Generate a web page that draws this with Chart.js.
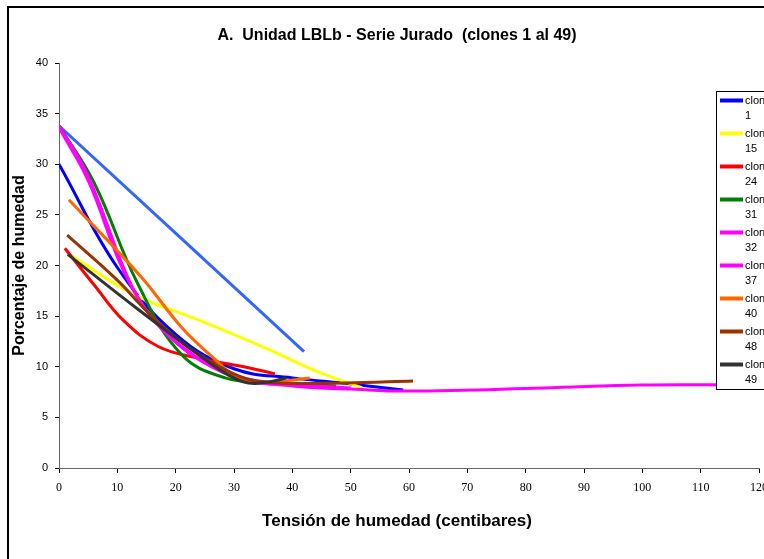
<!DOCTYPE html>
<html>
<head>
<meta charset="utf-8">
<script src="https://cdn.jsdelivr.net/npm/chart.js@4"></script>
<style>
  html, body { margin: 0; padding: 0; overflow: hidden; background: #fff; }
  #wrap { width: 790px; height: 600px; }
</style>
</head>
<body>
<div id="wrap"><canvas id="chart1" width="790" height="600"></canvas></div>
<script>
const TITLE = 'A.  Unidad LBLb - Serie Jurado  (clones 1 al 49)';
const X_TITLE = 'Tensión de humedad (centibares)';
const Y_TITLE = 'Porcentaje de humedad';

// each series: tension (x) and humidity (y)
const extraX = [0, 42];
const extraY = [33.8, 11.5];

const clon1X = [0, 10, 20, 30, 40, 50, 59];
const clon1Y = [30, 19.8, 13.2, 9.8, 8.9, 8.3, 7.7];

const clon15X = [2, 13, 24, 36, 44, 52];
const clon15Y = [21, 17.1, 14.6, 11.7, 9.6, 7.9];

const clon24X = [1, 6, 11, 17, 23.5, 32.5, 37];
const clon24Y = [21.7, 18.1, 14.6, 12, 10.9, 9.9, 9.3];

const clon31X = [0, 6, 13.5, 21, 28.5, 36, 47.5];
const clon31Y = [33.8, 28.2, 18.2, 11.2, 8.9, 8.4, 8.1];

const clon32X = [0, 5, 12.5, 17, 22, 30, 40, 50, 60, 83, 100, 118];
const clon32Y = [33.8, 28.8, 17.9, 14.2, 11.6, 9, 8.1, 7.8, 7.6, 7.9, 8.2, 8.2];

const clon37X = [0, 5, 12, 20, 30, 40, 50];
const clon37Y = [33.6, 28.4, 18.4, 12.4, 9.2, 8.3, 7.9];

const clon40X = [1.7, 14.2, 21, 26.8, 31, 36, 43];
const clon40Y = [26.5, 18.8, 13.9, 10.7, 8.8, 8.5, 8.9];

const clon48X = [1.4, 9.9, 15.4, 22, 29.6, 35, 49, 60.7];
const clon48Y = [23, 18.6, 15.3, 12, 9.4, 8.5, 8.4, 8.6];

const clon49X = [1.5, 13.7, 23.9, 29, 32.5, 36, 39];
const clon49Y = [21.1, 15.6, 11.2, 9.2, 8.4, 8.5, 8.9];

const SERIES = [
  { label: '', x: extraX, y: extraY, color: '#3366ff' },
  { label: 'clones 1', x: clon1X, y: clon1Y, color: '#0000ff' },
  { label: 'clones 15', x: clon15X, y: clon15Y, color: '#ffff00' },
  { label: 'clones 24', x: clon24X, y: clon24Y, color: '#ff0000' },
  { label: 'clones 31', x: clon31X, y: clon31Y, color: '#008000' },
  { label: 'clones 32', x: clon32X, y: clon32Y, color: '#ff00ff' },
  { label: 'clones 37', x: clon37X, y: clon37Y, color: '#ff00ff' },
  { label: 'clones 40', x: clon40X, y: clon40Y, color: '#ff6600' },
  { label: 'clones 48', x: clon48X, y: clon48Y, color: '#993300' },
  { label: 'clones 49', x: clon49X, y: clon49Y, color: '#333333' },
];

const datasets = SERIES.map((s, i) => ({
  label: s.label,
  data: s.x.map((x, j) => ({ x: x, y: s.y[j] })),
  borderColor: s.color,
  backgroundColor: s.color,
  borderWidth: 3,
  pointRadius: 0,
  showLine: true,
  tension: 0.4,
  fill: false,
  order: SERIES.length - i,
}));

// outer frame, chart title and x title like the original picture
const framePlugin = {
  id: 'frame',
  beforeDraw(chart) {
    const ctx = chart.ctx;
    ctx.save();
    ctx.fillStyle = '#fff';
    ctx.fillRect(0, 0, chart.width, chart.height);
    ctx.strokeStyle = '#000';
    ctx.lineWidth = 2;
    ctx.strokeRect(8, 7, chart.width + 20, chart.height + 20);
    ctx.fillStyle = '#000';
    ctx.font = 'bold 16px "Liberation Sans", Arial, sans-serif';
    ctx.textAlign = 'center';
    ctx.textBaseline = 'middle';
    ctx.fillText(TITLE, 397, 36);
    ctx.font = 'bold 17px "Liberation Sans", Arial, sans-serif';
    ctx.fillText(X_TITLE, 397, 521);
    ctx.restore();
  },
};

// legend box floating over the plot, text wraps "clones" / number
const legendBox = {
  id: 'legendBox',
  afterDraw(chart) {
    const ctx = chart.ctx;
    const items = chart.data.datasets.filter((d) => d.label);
    const left = 716.5, top = 91.5, step = 33;
    ctx.save();
    ctx.fillStyle = '#fff';
    ctx.fillRect(left, top, 80, items.length * step + 1);
    ctx.strokeStyle = '#000';
    ctx.lineWidth = 1;
    ctx.strokeRect(left, top, 80, items.length * step + 1);
    ctx.font = '11px "Liberation Sans", Arial, sans-serif';
    ctx.textBaseline = 'middle';
    ctx.fillStyle = '#000';
    items.forEach((d, i) => {
      const y = top + 9 + i * step;
      ctx.strokeStyle = d.borderColor;
      ctx.lineWidth = 4;
      ctx.beginPath();
      ctx.moveTo(720, y);
      ctx.lineTo(743, y);
      ctx.stroke();
      const parts = d.label.split(' ');
      ctx.fillText(parts[0], 745, y);
      ctx.fillText(parts[1], 745, y + 15);
    });
    ctx.restore();
  },
};

new Chart(document.getElementById('chart1').getContext('2d'), {
  type: 'scatter',
  data: { datasets: datasets },
  plugins: [framePlugin, legendBox],
  options: {
    responsive: false,
    animation: false,
    layout: { padding: { left: 6, top: 63, right: 31, bottom: 65 } },
    plugins: {
      legend: { display: false },
      tooltip: { enabled: false },
      title: { display: false },
    },
    scales: {
      x: {
        type: 'linear',
        min: 0,
        max: 120,
        afterFit(scale) { scale.height = 67; },
        ticks: {
          stepSize: 10,
          color: '#000',
          padding: 8,
          maxRotation: 0,
          font: { family: '"Liberation Serif", "Times New Roman", serif', size: 12 },
        },
        grid: { drawOnChartArea: false, drawTicks: true, tickLength: 5, color: '#000' },
        border: { color: '#666', width: 1 },
      },
      y: {
        min: 0,
        max: 40,
        afterFit(scale) { scale.width = 53; },
        ticks: {
          stepSize: 5,
          color: '#000',
          padding: 7,
          font: { family: '"Liberation Sans", Arial, sans-serif', size: 11 },
        },
        grid: { drawOnChartArea: false, drawTicks: true, tickLength: 4, color: '#000' },
        border: { color: '#666', width: 1 },
        title: {
          display: true,
          text: Y_TITLE,
          color: '#000',
          font: { family: '"Liberation Sans", Arial, sans-serif', size: 16, weight: 'bold' },
        },
      },
    },
  },
});
</script>
</body>
</html>
